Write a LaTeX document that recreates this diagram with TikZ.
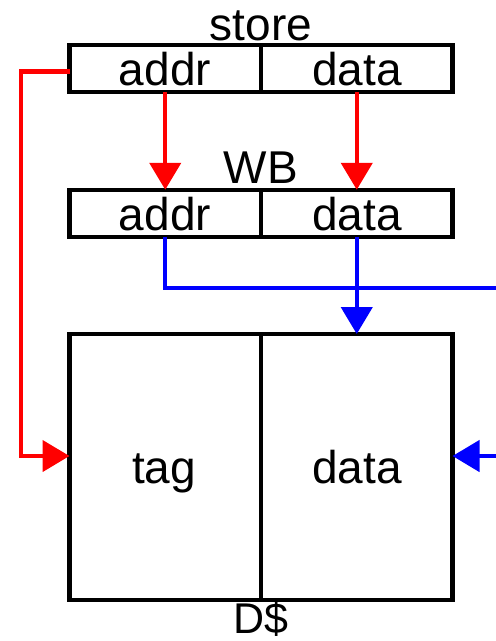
\documentclass[tikz,border=0pt]{standalone}
\usepackage{fontspec}
\setmainfont{Liberation Sans}
\usetikzlibrary{arrows.meta}

\tikzset{
  cell/.style={draw=black, line width=4.2pt, rectangle, outer sep=0pt, inner sep=0pt,
               minimum width=191.5pt},
  regcell/.style={cell, minimum height=47pt},
  cachecell/.style={cell, minimum height=266pt},
  lbl/.style={anchor=base, inner sep=0pt, font=\fontsize{46}{46}\selectfont},
  wire/.style={line width=4.4pt},
  redwire/.style={wire, draw={rgb,255:red,255;green,0;blue,0}},
  bluewire/.style={wire, draw={rgb,255:red,0;green,0;blue,255}},
  tip/.style={-{Triangle[width=31pt,length=27pt]}},
}

\begin{document}
\begin{tikzpicture}[x=1pt,y=-1pt]
  \useasboundingbox (0,0) rectangle (496,641);

  % store register
  \node[regcell] (sa) at (165.25,68.5) {};
  \node[regcell] (sd) at (356.75,68.5) {};
  \node[lbl] (sat) at (165,85) {addr};
  \node[lbl] (sdt) at (357,85) {data};
  \node[lbl] (st) at (261,40) {store};

  % write buffer
  \node[regcell] (wa) at (165.25,213.3) {};
  \node[regcell] (wd) at (356.75,213.3) {};
  \node[lbl] (wat) at (165,230) {addr};
  \node[lbl] (wdt) at (357,230) {data};
  \node[lbl] (wb) at (261,183) {WB};

  % data cache
  \node[cachecell] (ct) at (165.25,467) {};
  \node[cachecell] (cd) at (356.75,467) {};
  \node[lbl] (ctt) at (164,483) {tag};
  \node[lbl] (cdt) at (357,483) {data};
  \node[lbl, font=\fontsize{43}{43}\selectfont] (dc) at (261,633) {D\$};

  % free ends at the right edge
  \coordinate (bout) at (497,288);
  \coordinate (bin) at (497,456);
  \coordinate (rl) at (21,71.5);

  % store -> write buffer
  \draw[redwire, tip] (sa.south) -- (wa.north);
  \draw[redwire, tip] (sd.south) -- (wd.north);

  % store address -> tag array
  \draw[redwire, tip] (sa.west |- rl) -- (rl) -- (rl |- bin) -- (ct.west |- bin);

  % write buffer -> cache
  \draw[bluewire] (wa.south) -- (wa.south |- bout) -- (bout);
  \draw[bluewire, tip] (wd.south) -- (cd.north);
  \draw[bluewire, tip] (bin) -- (cd.east |- bin);
\end{tikzpicture}
\end{document}
